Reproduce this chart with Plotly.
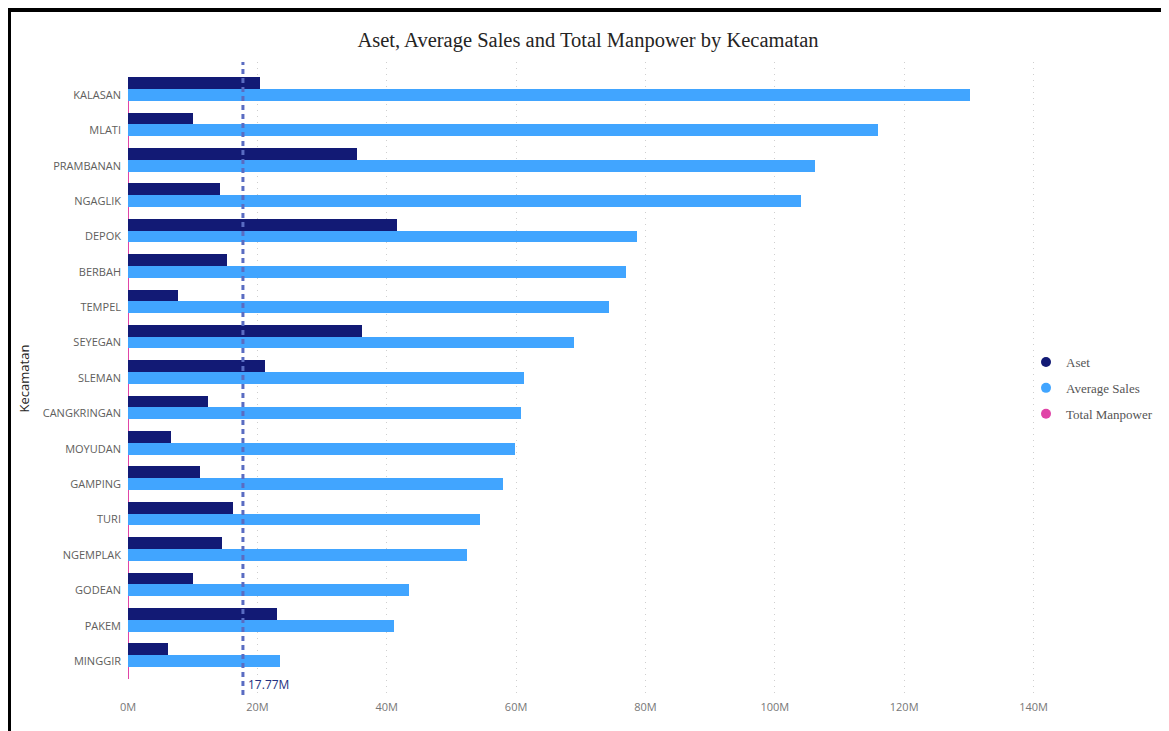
import plotly.graph_objects as go

kecamatan = ["KALASAN", "MLATI", "PRAMBANAN", "NGAGLIK", "DEPOK", "BERBAH", "TEMPEL",
             "SEYEGAN", "SLEMAN", "CANGKRINGAN", "MOYUDAN", "GAMPING", "TURI",
             "NGEMPLAK", "GODEAN", "PAKEM", "MINGGIR"]
aset = [20.4, 10.0, 35.4, 14.2, 41.6, 15.3, 7.7, 36.2, 21.2, 12.4, 6.6, 11.1, 16.2,
        14.5, 10.0, 23.0, 6.2]
average_sales = [130.1, 115.9, 106.2, 104.0, 78.7, 77.0, 74.3, 68.9, 61.2, 60.7, 59.8,
                 58.0, 54.4, 52.4, 43.4, 41.1, 23.5]
total_manpower = [0.004, 0.003, 0.004, 0.003, 0.005, 0.003, 0.002, 0.003, 0.004, 0.002,
                  0.002, 0.003, 0.002, 0.003, 0.002, 0.002, 0.001]
avg_line = 17.77
tick_vals = [0, 20, 40, 60, 80, 100, 120, 140]
tick_text = ["0M", "20M", "40M", "60M", "80M", "100M", "120M", "140M"]

M = 1e6
C_ASET = "#121a75"
C_SALES = "#41a5ff"
C_MP = "#e044a7"

OFF = 8  # page body margin
W, H = 1169 - OFF, 731 - OFF
L, R, T, B = 128 - OFF, 1169 - 1040, 62 - OFF, 731 - 695
PW, PH = W - L - R, H - T - B


def px_x(p):
    return (p - OFF - L) / PW


def px_y(p):
    return 1 - (p - OFF - T) / PH


fig = go.Figure()
fig.add_trace(go.Bar(y=kecamatan, x=[v * M for v in aset], orientation="h", name="Aset",
                     marker=dict(color=C_ASET, line=dict(width=0)), showlegend=False))
fig.add_trace(go.Bar(y=kecamatan, x=[v * M for v in average_sales], orientation="h",
                     name="Average Sales", marker=dict(color=C_SALES, line=dict(width=0)),
                     showlegend=False))
fig.add_trace(go.Bar(y=kecamatan, x=[v * M for v in total_manpower], orientation="h",
                     name="Total Manpower", marker=dict(color=C_MP, line=dict(width=0)),
                     showlegend=False))

for nm, col in [("Aset", C_ASET), ("Average Sales", C_SALES), ("Total Manpower", C_MP)]:
    fig.add_trace(go.Scatter(x=[None], y=[None], mode="markers", name=nm, legendgroup=nm,
                             marker=dict(color=col, size=10, symbol="circle")))

fig.add_shape(type="line", x0=avg_line * M, x1=avg_line * M, xref="x", yref="paper", y0=0, y1=1,
              line=dict(color="#5a6cc2", width=3, dash="5px,4px"))
fig.add_annotation(x=avg_line * M, xref="x", y=px_y(684), yref="paper", text="17.77M",
                   showarrow=False, xanchor="left", xshift=3, yanchor="middle",
                   font=dict(family="Segoe UI, Open Sans, sans-serif", size=12, color="#23307f"))

# outer black frame (top and left edges visible)
fig.add_shape(type="rect", xref="paper", yref="paper", x0=px_x(9), x1=px_x(1200),
              y0=px_y(760), y1=px_y(10), line=dict(color="black", width=4),
              fillcolor="rgba(0,0,0,0)", layer="above")

fig.update_layout(
    width=W, height=H,
    margin=dict(l=L, r=R, t=T, b=B, autoexpand=False),
    paper_bgcolor="white", plot_bgcolor="white",
    barmode="group", bargap=0.0, bargroupgap=0.0,
    title=dict(text="Aset, Average Sales and Total Manpower by Kecamatan",
               x=px_x(588), xref="paper", xanchor="center", y=1 - (40 - OFF) / H, yanchor="middle",
               font=dict(family="Liberation Serif, Times New Roman, serif", size=20.5, color="#252423")),
    legend=dict(x=px_x(1026), y=px_y(347), xanchor="left", yanchor="top",
                font=dict(family="Liberation Serif, Times New Roman, serif", size=13, color="#555555"),
                tracegroupgap=6, itemwidth=30, bgcolor="rgba(0,0,0,0)"),
    showlegend=True,
)
fig.update_xaxes(range=[0, 141 * M], tickvals=[v * M for v in tick_vals], ticktext=tick_text,
                 showgrid=True, gridcolor="#cfcfcf", griddash="1px,5px", gridwidth=1,
                 zeroline=False, showline=False, ticks="", ticklabelstandoff=4,
                 tickfont=dict(family="Segoe UI, Open Sans, sans-serif", size=11, color="#777777"))
fig.update_yaxes(categoryorder="array", categoryarray=kecamatan, range=[16.96, -0.93],
                 showgrid=False, zeroline=False, showline=False, ticks="",
                 ticklabelstandoff=6,
                 tickfont=dict(family="Segoe UI, Open Sans, sans-serif", size=11, color="#605e5c"),
                 title=dict(text="Kecamatan", standoff=10,
                            font=dict(family="Segoe UI, Open Sans, sans-serif", size=13, color="#252423")))

fig.write_html("out.html")
